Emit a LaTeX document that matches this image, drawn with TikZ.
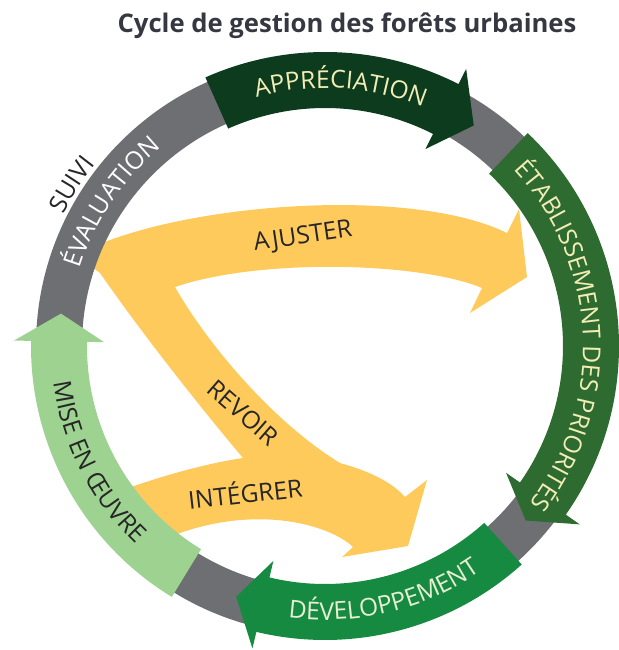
\documentclass[tikz,border=0pt]{standalone}
\usepackage{fontspec}
\setmainfont{Open Sans}
\usetikzlibrary{decorations.text}

\definecolor{ringgray}{HTML}{6E6F72}
\definecolor{darkgreen}{HTML}{0C3B1E}
\definecolor{midgreen}{HTML}{2E6B31}
\definecolor{brightgreen}{HTML}{168A41}
\definecolor{lightgreen}{HTML}{9DD290}
\definecolor{cream}{HTML}{F1EDB4}
\definecolor{palecream}{HTML}{E6EFD4}
\definecolor{flowyellow}{HTML}{FFCA5C}
\definecolor{inkdark}{HTML}{262626}
\definecolor{titlecol}{HTML}{363841}

\newcommand\ringfont{\fontsize{14}{16}\selectfont}
\newcommand\flowfont{\fontsize{14}{16}\selectfont}

% curved band arrow on the ring: colour, tail angle, head-base angle, tip angle
\newcommand\ringarrow[4]{%
  \fill[#1] (#2:294) arc[start angle=#2, end angle=#3, radius=294]
    -- (#3:311) -- (#4:266) -- (#3:221) -- (#3:238)
    arc[start angle=#3, end angle=#2, radius=238] -- cycle;}

\tikzset{
  flowlabel/.style={font=\flowfont, text=inkdark, inner sep=0pt},
}

\begin{document}
\begin{tikzpicture}[x=0.02cm, y=0.02cm]
\useasboundingbox (0,0) rectangle (619,-650);

% title
\node[font=\bfseries\fontsize{14.6}{17}\selectfont, text=titlecol] (title) at (347,-26)
  {Cycle de gestion des forêts urbaines};

% yellow feedback arrows (ajuster / revoir / intégrer)
\fill[flowyellow]
  (85,-262) -- (92,-246) -- (110,-240)
  .. controls (220,-200) and (420,-190) .. (507,-233)
  -- (519,-209) -- (527,-277) -- (470,-313) -- (482,-288)
  .. controls (420,-262) and (260,-258) .. (175,-287)
  .. controls (205,-340) and (270,-420) .. (340,-463)
  .. controls (365,-470) and (390,-480) .. (405,-497)
  -- (427,-480) -- (408,-546) -- (342,-557) -- (353,-547)
  .. controls (330,-525) and (260,-505) .. (180,-533)
  -- (150,-550) -- (120,-490) -- (137,-485)
  .. controls (175,-472) and (215,-462) .. (243,-458)
  .. controls (215,-425) and (150,-345) .. (100,-273)
  -- cycle;

\node[flowlabel, rotate=8.5] (ajuster) at (303,-237) {AJUSTER};
\node[flowlabel, rotate=-41] (revoir) at (243,-413) {REVOIR};
\node[flowlabel, rotate=6.5] (integrer) at (245,-492) {INTÉGRER};

\begin{scope}[shift={(325,-346)}]
  % grey ring
  \fill[ringgray, even odd rule] (0,0) circle[radius=289] (0,0) circle[radius=243];

  % the four stages, running clockwise
  \ringarrow{darkgreen}{114}{63}{56}
  \ringarrow{midgreen}{46.4}{-35}{-41}
  \ringarrow{brightgreen}{-48}{-103.5}{-109.5}
  \ringarrow{lightgreen}{238.6}{179}{173}

  % labels along the ring
  \path[decorate, decoration={text along path, text align=center,
      text color=cream, text={|\ringfont|APPRÉCIATION}}]
    (136.5:258) arc[start angle=136.5, end angle=36.5, radius=258];
  \path[decorate, decoration={text along path, text align=center,
      text color=cream, text={|\ringfont|ÉTABLISSEMENT DES PRIORITÉS}}]
    (62.7:258) arc[start angle=62.7, end angle=-57.3, radius=258];
  \path[decorate, decoration={text along path, text align=center,
      text color=palecream, text={|\ringfont|DÉVELOPPEMENT}}]
    (-136.5:274) arc[start angle=-136.5, end angle=-16.5, radius=274];
  \path[decorate, decoration={text along path, text align=center,
      text color=inkdark, text={|\ringfont|MISE EN ŒUVRE}}]
    (147:274) arc[start angle=147, end angle=267, radius=274];
  \path[decorate, decoration={text along path, text align=center,
      text color=white, text={|\ringfont|ÉVALUATION}}]
    (196:257) arc[start angle=196, end angle=96, radius=257];
  \path[decorate, decoration={text along path, text align=center,
      text color=inkdark, text={|\ringfont|SUIVI}}]
    (180:293) arc[start angle=180, end angle=115, radius=293];
\end{scope}
\end{tikzpicture}
\end{document}
